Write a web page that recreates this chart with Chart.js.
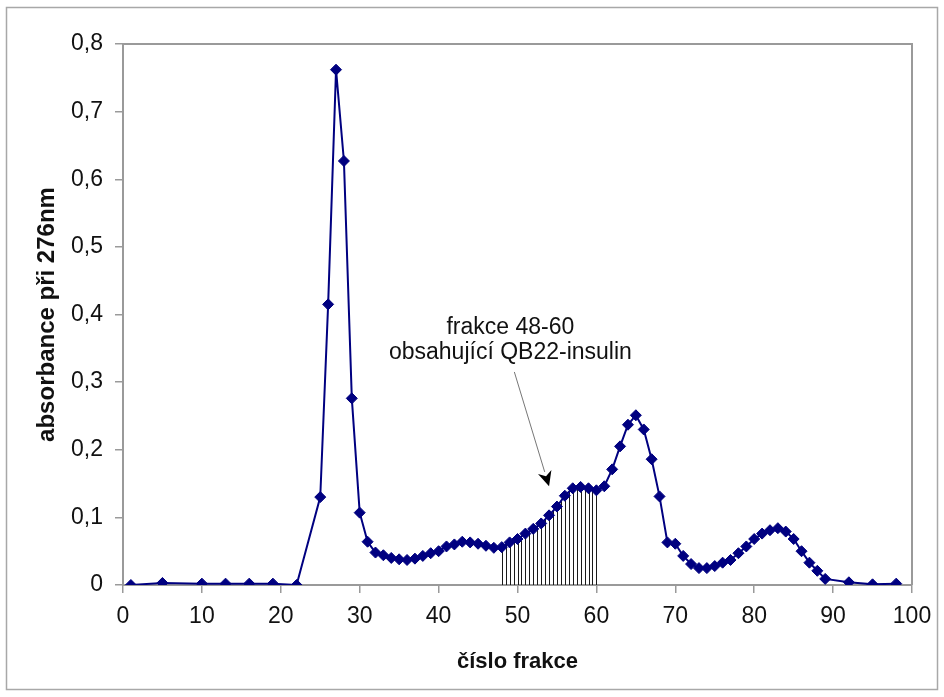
<!DOCTYPE html>
<html>
<head>
<meta charset="utf-8">
<script src="https://cdn.jsdelivr.net/npm/chart.js@4/dist/chart.umd.min.js"></script>
<style>
html,body{margin:0;padding:0;background:#fff;}
canvas{display:block;}
</style>
</head>
<body>
<canvas id="c" width="944" height="697"></canvas>
<script>
// ---- data ----
const fractions = [1,5,10,13,16,19,22,25,26,27,28,29,30,31,32,33,34,35,36,37,38,39,40,41,42,43,44,45,46,47,48,49,50,51,52,53,54,55,56,57,58,59,60,61,62,63,64,65,66,67,68,69,70,71,72,73,74,75,76,77,78,79,80,81,82,83,84,85,86,87,88,89,92,95,98];
const absorbance = [0.000,0.003,0.002,0.002,0.002,0.002,0.000,0.130,0.415,0.762,0.627,0.276,0.107,0.064,0.048,0.044,0.040,0.038,0.037,0.039,0.043,0.047,0.050,0.057,0.060,0.064,0.063,0.061,0.058,0.055,0.056,0.063,0.068,0.076,0.083,0.091,0.103,0.116,0.132,0.143,0.145,0.143,0.140,0.146,0.171,0.205,0.237,0.251,0.230,0.186,0.131,0.063,0.061,0.043,0.031,0.025,0.025,0.028,0.033,0.037,0.047,0.057,0.068,0.076,0.081,0.084,0.079,0.068,0.050,0.033,0.021,0.009,0.004,0.001,0.002];
const xTicks = [0,10,20,30,40,50,60,70,80,90,100];
const yTicks = [0,0.1,0.2,0.3,0.4,0.5,0.6,0.7,0.8];
const hatchRange = [48, 60];
const hatchStep = 0.5;
const annotationLines = ['frakce 48-60', 'obsahující QB22-insulin'];
const xTitle = 'číslo frakce';
const yTitle = 'absorbance při 276nm';

// annotation placement (data space)
const annotAnchor = {x: 49.1, y: [0.380, 0.343]};
const arrowFrom = {x: 49.6, y: 0.315};
const arrowTo = {x: 54.0, y: 0.146};

const FONT = "'Liberation Sans', Arial, sans-serif";
const LINE = '#000080';
const AXIS = '#9a9a9a';

const points = fractions.map((f, i) => ({x: f, y: absorbance[i]}));

const framePlugin = {
  id: 'frame',
  beforeDraw(chart) {
    const ctx = chart.ctx;
    ctx.save();
    ctx.fillStyle = '#fff';
    ctx.fillRect(0, 0, chart.width, chart.height);
    ctx.strokeStyle = '#a8a8a8';
    ctx.lineWidth = 1.5;
    ctx.strokeRect(6.5, 7.5, chart.width - 13, chart.height - 15);
    ctx.restore();
  },
  beforeDatasetsDraw(chart) {
    const {ctx, chartArea: a} = chart;
    ctx.save();
    ctx.strokeStyle = AXIS;
    ctx.lineWidth = 2;
    ctx.beginPath();
    ctx.moveTo(a.left, a.top);
    ctx.lineTo(a.right, a.top);
    ctx.lineTo(a.right, a.bottom);
    ctx.stroke();
    // hatching under the curve
    const meta = chart.getDatasetMeta(0);
    const xs = chart.scales.x, ys = chart.scales.y;
    const base = ys.getPixelForValue(0);
    ctx.strokeStyle = '#1a1a1a';
    ctx.lineWidth = 1;
    for (let f = hatchRange[0]; f <= hatchRange[1] + 1e-9; f += hatchStep) {
      let i = 0;
      while (i < fractions.length - 2 && fractions[i + 1] < f) i++;
      const p0 = meta.data[i], p1 = meta.data[i + 1];
      const px = xs.getPixelForValue(f);
      const t = (px - p0.x) / (p1.x - p0.x);
      const py = p0.y + (p1.y - p0.y) * t;
      const x = Math.round(px) + 0.5;
      ctx.beginPath();
      ctx.moveTo(x, base);
      ctx.lineTo(x, py);
      ctx.stroke();
    }
    ctx.restore();
  },
  afterDatasetsDraw(chart) {
    const ctx = chart.ctx;
    const xs = chart.scales.x, ys = chart.scales.y;
    ctx.save();
    ctx.fillStyle = '#111';
    ctx.font = '23px ' + FONT;
    ctx.textAlign = 'center';
    ctx.textBaseline = 'middle';
    annotationLines.forEach((t, i) => {
      ctx.fillText(t, xs.getPixelForValue(annotAnchor.x), ys.getPixelForValue(annotAnchor.y[i]));
    });
    const x0 = xs.getPixelForValue(arrowFrom.x), y0 = ys.getPixelForValue(arrowFrom.y);
    const x1 = xs.getPixelForValue(arrowTo.x), y1 = ys.getPixelForValue(arrowTo.y);
    const ang = Math.atan2(y1 - y0, x1 - x0);
    const L = 15, W = 7;
    const bx = x1 - L * Math.cos(ang), by = y1 - L * Math.sin(ang);
    ctx.strokeStyle = '#777';
    ctx.lineWidth = 1;
    ctx.beginPath();
    ctx.moveTo(x0, y0);
    ctx.lineTo(bx, by);
    ctx.stroke();
    ctx.fillStyle = '#000';
    ctx.beginPath();
    ctx.moveTo(x1, y1);
    ctx.lineTo(bx - W * Math.sin(ang), by + W * Math.cos(ang));
    ctx.lineTo(x1 - (L * 0.7) * Math.cos(ang), y1 - (L * 0.7) * Math.sin(ang));
    ctx.lineTo(bx + W * Math.sin(ang), by - W * Math.cos(ang));
    ctx.closePath();
    ctx.fill();
    ctx.restore();
  }
};

new Chart(document.getElementById('c'), {
  type: 'line',
  data: {
    datasets: [{
      data: points,
      borderColor: LINE,
      backgroundColor: LINE,
      borderWidth: 2,
      pointStyle: 'rectRot',
      pointRadius: 5.5,
      pointBorderWidth: 1,
      pointBackgroundColor: LINE,
      pointBorderColor: LINE,
      tension: 0,
      fill: false
    }]
  },
  options: {
    responsive: false,
    animation: false,
    devicePixelRatio: 1,
    layout: {padding: {top: 44, right: 32, left: 0, bottom: 0}},
    plugins: {legend: {display: false}, tooltip: {enabled: false}},
    scales: {
      x: {
        type: 'linear',
        min: 0, max: 100,
        afterBuildTicks(s) { s.ticks = xTicks.map(v => ({value: v})); },
        afterFit(s) { s.height = 112; },
        grid: {drawOnChartArea: false, drawTicks: true, tickLength: 8, color: AXIS, lineWidth: 1.5},
        border: {display: true, color: AXIS, width: 2},
        ticks: {color: '#111', font: {family: FONT, size: 23}, padding: 10, maxRotation: 0, autoSkip: false},
        title: {display: true, text: xTitle, color: '#111', font: {family: FONT, size: 22, weight: 'bold'}, padding: {top: 0, bottom: 22}}
      },
      y: {
        type: 'linear',
        min: 0, max: 0.8,
        afterBuildTicks(s) { s.ticks = yTicks.map(v => ({value: v})); },
        afterFit(s) { s.width = 123; },
        grid: {drawOnChartArea: false, drawTicks: true, tickLength: 8, color: AXIS, lineWidth: 1.5},
        border: {display: true, color: AXIS, width: 2},
        ticks: {
          color: '#111', font: {family: FONT, size: 23}, padding: 12, autoSkip: false,
          callback: v => v === 0 ? '0' : v.toFixed(1).replace('.', ',')
        },
        title: {display: true, text: yTitle, color: '#111', font: {family: FONT, size: 24, weight: 'bold'}, padding: {top: 33, bottom: 0}}
      }
    }
  },
  plugins: [framePlugin]
});
</script>
</body>
</html>
